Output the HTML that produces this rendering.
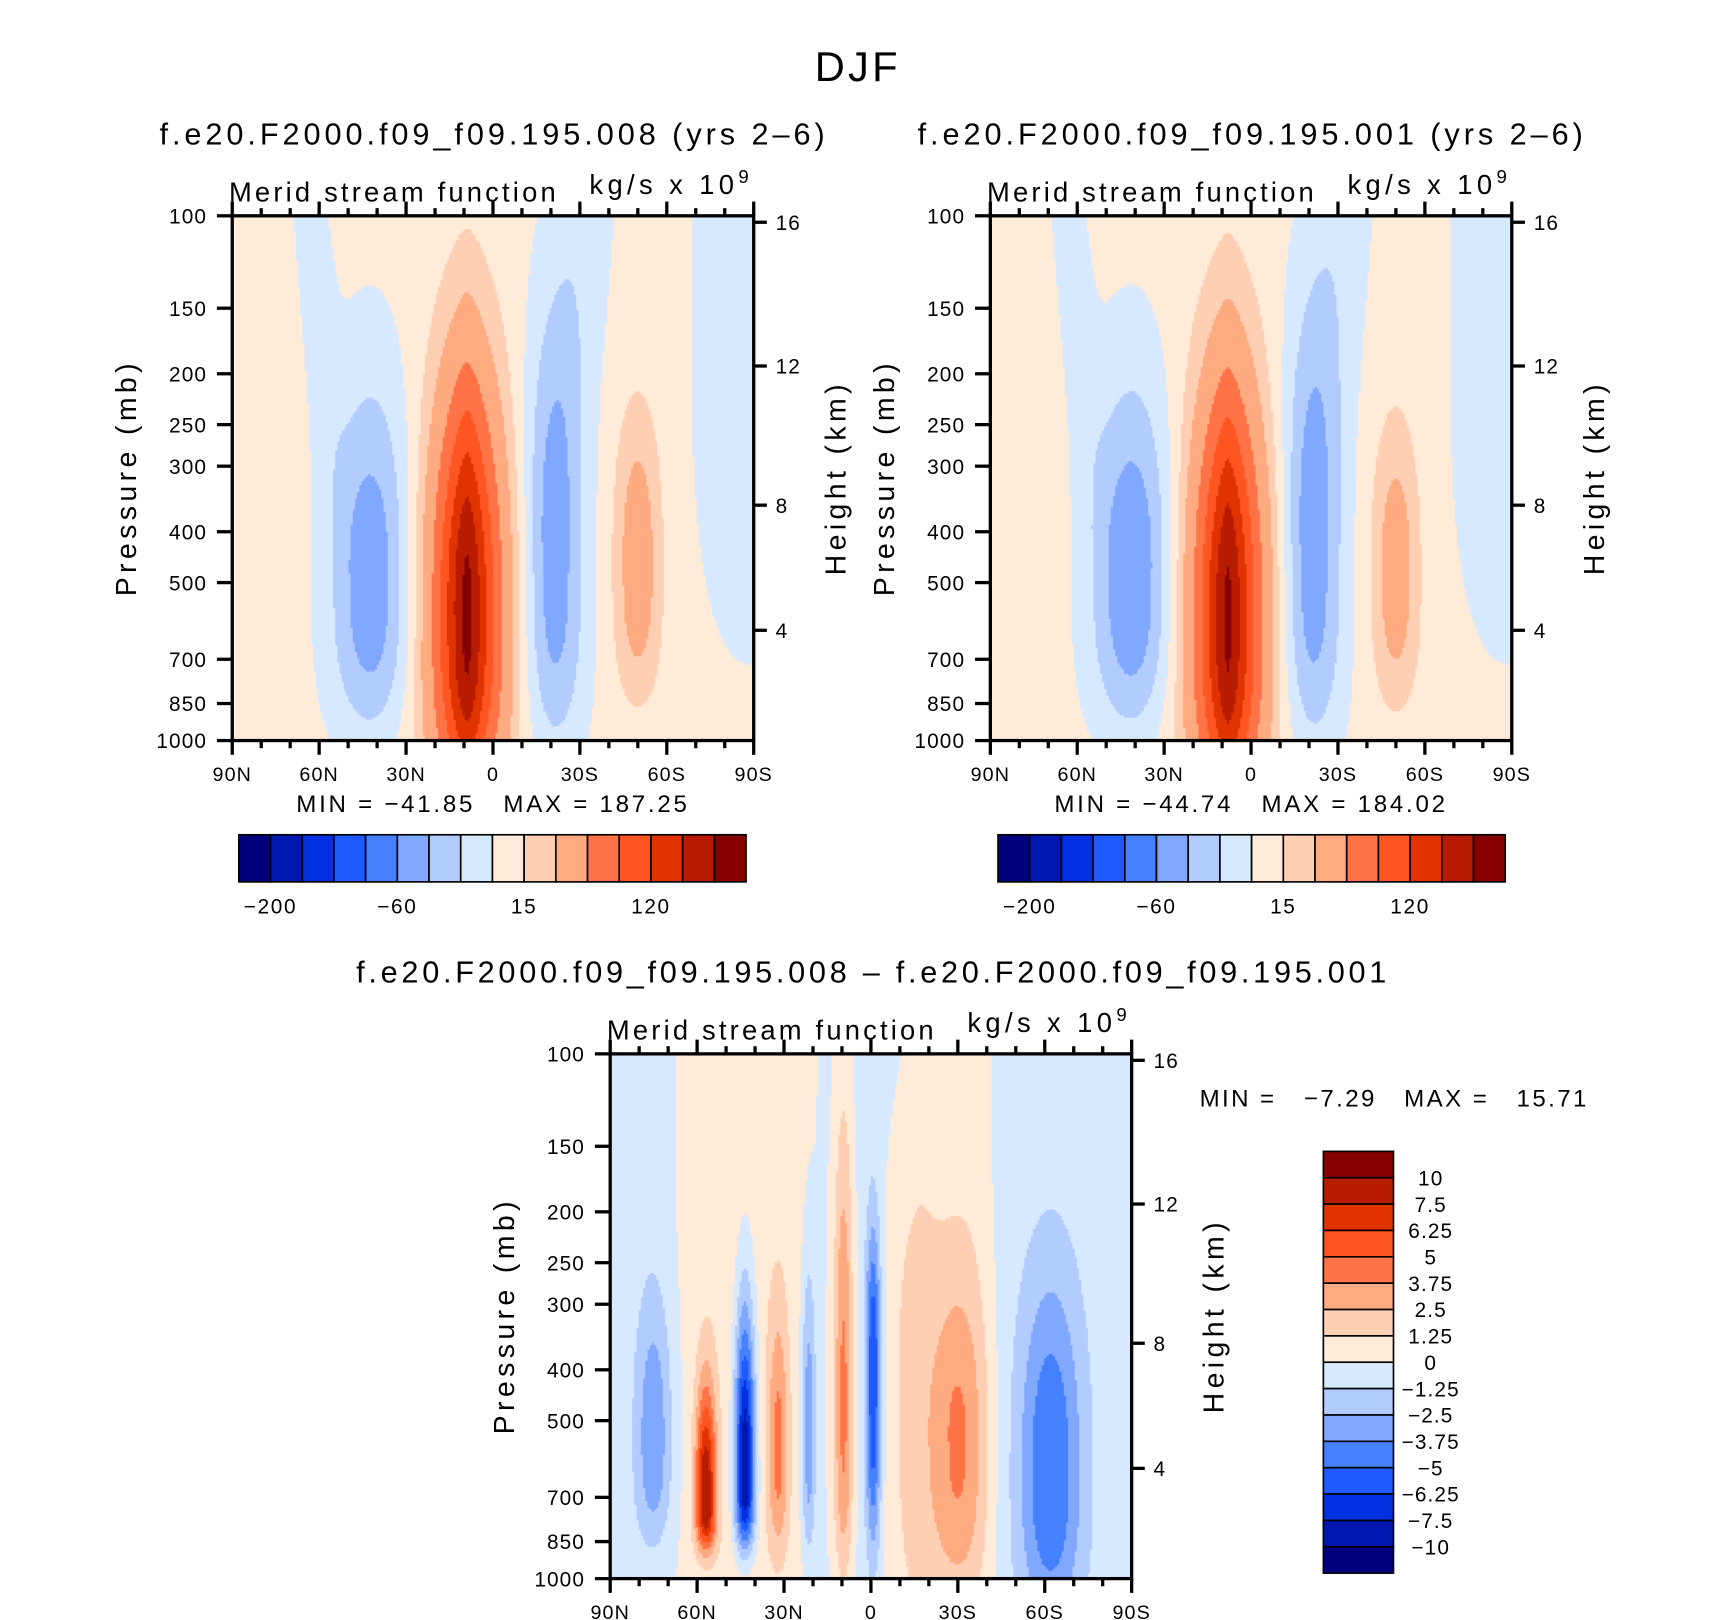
<!DOCTYPE html>
<html><head><meta charset="utf-8">
<style>
body{margin:0;background:#fff;width:1710px;height:1620px;overflow:hidden;}
#wrap{position:relative;width:1560px;height:1478px;overflow:hidden;background:#fff;transform:scale(1.0955);transform-origin:0 0;}
canvas{position:absolute;}
svg{position:absolute;left:0;top:0;}
text{font-family:"Liberation Sans",sans-serif;fill:#000;white-space:pre;}
</style></head>
<body>
<div id="wrap">
<canvas id="c1" width="476" height="479" style="left:212px;top:197px"></canvas>
<canvas id="c2" width="476" height="479" style="left:904px;top:197px"></canvas>
<canvas id="c3" width="476" height="479" style="left:557px;top:962px"></canvas>
<svg id="ov" width="1560" height="1478"></svg>
</div>
<script>
// ---- data ----
const pressureTicks = [100,150,200,250,300,400,500,700,850,1000];
const heightTicks = [4,8,12,16];
const latTicks = [90,60,30,0,-30,-60,-90];
const latTickLabels = ["90N","60N","30N","0","30S","60S","90S"];
const colors = ["#00007f","#0018b0","#0030e0","#1e5aff","#4580ff","#80a8ff","#b3ccff","#d6e9ff","#ffebd8","#ffcfb4","#ffaa80","#ff7347","#ff5520","#e13300","#b71c00","#870000"];
const levelsTop = [-200,-150,-100,-80,-60,-30,-15,0,15,30,60,90,120,150,180];
const levelsDiff = [-10,-7.5,-6.25,-5,-3.75,-2.5,-1.25,0,1.25,2.5,3.75,5,6.25,7.5,10];
const topBarLabels = ["-200","-60","15","120"];
const topBarLabelIdx = [0,4,8,12];
const diffBarLabels = ["10","7.5","6.25","5","3.75","2.5","1.25","0","-1.25","-2.5","-3.75","-5","-6.25","-7.5","-10"];
// panel 1 cells: lat, latWidth, latExponent, pressure centre, upper width, lower width, tilt, amplitude
const p1Bg = 5;
const p1Lat  = [9, 42, 63, -21, -31, -50, -88];
const p1LatW = [11, 14, 6, 10.5, 11, 8, 20];
const p1Exp  = [1.5, 2, 2, 2, 2, 2, 2];
const p1P    = [550, 480, 100, 447, 100, 437, 160];
const p1WUp  = [0.42, 0.37, 0.5, 0.44, 0.5, 0.27, 2];
const p1WDn  = [0.36, 0.3, 0.5, 0.36, 0.5, 0.27, 0.66];
const p1Tilt = [0, 0, -14.6, 0, 14.6, 0, 0];
const p1Amp  = [185, -46, -13, -44, -13, 38, -13];
// panel 2
const p2Bg = 5;
const p2Lat  = [8, 41, 63, -21, -31, -50, -88];
const p2LatW = [11, 14, 6, 10.5, 11, 8, 20];
const p2Exp  = [1.5, 2, 2, 2, 2, 2, 2];
const p2P    = [560, 470, 100, 440, 100, 450, 160];
const p2WUp  = [0.42, 0.36, 0.5, 0.45, 0.5, 0.26, 2];
const p2WDn  = [0.36, 0.3, 0.5, 0.36, 0.5, 0.27, 0.66];
const p2Tilt = [0, 0, -14.6, 0, 14.6, 0, 0];
const p2Amp  = [182, -49, -13, -45, -13, 36, -13];
// panel 3 difference
const p3Bg = -0.5;
const p3Lat  = [43, -28, -30, -12, 75, 57, 43.5, 32, 21.5, 9.5, -0.8, -62];
const p3LatW = [25, 14, 10, 8, 6, 3.5, 3.5, 3.5, 2.5, 3.5, 2.5, 11];
const p3Exp  = [4, 4, 2, 2, 2, 2, 2, 2, 2, 2, 2, 2];
const p3P    = [300, 400, 525, 400, 525, 700, 620, 550, 500, 450, 380, 600];
const p3WUp  = [3, 1.5, 0.3, 0.5, 0.26, 0.21, 0.31, 0.25, 0.3, 0.55, 0.25, 0.36];
const p3WDn  = [3, 1.0, 0.3, 0.6, 0.2, 0.1, 0.15, 0.2, 0.25, 0.35, 0.35, 0.3];
const p3Tilt = [0,0,0,0,0,0,0,0,0,0,0,0];
const p3Amp  = [1.3, 1.3, 3.2, 1.8, -3.2, 8.5, -9.5, 3.5, -3.5, 4.5, -6, -4.5];

// ---- axes ----
const W=476,H=479;
function latToX(P,lat){return P.x0+(90-lat)/180*W;}
function pToY(P,p){return P.y0+(Math.log10(p)-2)*H;}
function hToP(z){z*=1000; if(z<=11000) return 1013.25*Math.pow(1-2.2557e-5*z,5.256); return 226.3*Math.exp(-(z-11000)/6341.6);}
function field(lat,u,bg,L,LW,E,PC,WU,WD,T,A){
  let f=bg;
  for(let i=0;i<L.length;i++){
    const uc=Math.log10(PC[i]); const du=u-uc;
    const lc=L[i]+T[i]*du;
    const d=Math.abs(lat-lc)/LW[i];
    const w=du<0?WU[i]:WD[i];
    const r=Math.abs(du/w);
    const vz=du<0?r*r:Math.pow(r,3);
    f+=A[i]*Math.exp(-Math.pow(d,E[i]))*Math.exp(-vz);
  }
  return f;
}
function drawField(id,bg,L,LW,E,PC,WU,WD,T,A,levels){
  const ctx=document.getElementById(id).getContext('2d');
  for(let y=0;y<H;y+=2){
    const u=2+(y+1)/H;
    for(let x=0;x<W;x+=2){
      const lat=90-(x+1)/W*180;
      const f=field(lat,u,bg,L,LW,E,PC,WU,WD,T,A);
      let k=0; while(k<levels.length&&f>=levels[k])k++;
      ctx.fillStyle=colors[k]; ctx.fillRect(x,y,2,2);
    }
  }
}
drawField('c1',p1Bg,p1Lat,p1LatW,p1Exp,p1P,p1WUp,p1WDn,p1Tilt,p1Amp,levelsTop);
drawField('c2',p2Bg,p2Lat,p2LatW,p2Exp,p2P,p2WUp,p2WDn,p2Tilt,p2Amp,levelsTop);
drawField('c3',p3Bg,p3Lat,p3LatW,p3Exp,p3P,p3WUp,p3WDn,p3Tilt,p3Amp,levelsDiff);

const svg=document.getElementById('ov');
const NS='http://www.w3.org/2000/svg';
function mk(tag,attrs,txt,parent){const e=document.createElementNS(NS,tag);for(const k in attrs)e.setAttribute(k,attrs[k]);if(txt!==undefined)e.textContent=txt;(parent||svg).appendChild(e);return e;}
function line(x1,y1,x2,y2,w,name){const e=mk('line',{x1,y1,x2,y2,stroke:'#000','stroke-width':w});return e;}
function txt(x,y,s,size,anchor,name,extra){const a={x,y,'font-size':size,'text-anchor':anchor||'start'};if(extra)for(const k in extra)a[k]=extra[k];const e=mk('text',a,s);return e;}

function axes(P,prefix){
  const x1=P.x0+W,y1=P.y0+H;
  const r=mk('rect',{x:P.x0,y:P.y0,width:W,height:H,fill:'none',stroke:'#000','stroke-width':3});
  
  
  pressureTicks.forEach(p=>{const y=pToY(P,p);line(P.x0-14,y,P.x0,y,3,prefix+'-y-tick');txt(P.x0-23,y+7,String(p),19,'end',prefix+'-y-tick-label',{'letter-spacing':'1'});});
  heightTicks.forEach(h=>{const y=pToY(P,hToP(h));line(x1,y,x1+12,y,3,prefix+'-height-tick');txt(x1+20,y+7,String(h),19,'start',prefix+'-height-tick-label',{'letter-spacing':'1'});});
  for(let lat=90;lat>=-90;lat-=10){const x=latToX(P,lat);const major=lat%30===0;const l=major?13:7;
    line(x,y1,x,y1+l,3,prefix+'-x-tick');line(x,P.y0,x,P.y0-l,3,prefix+'-top-x-tick');}
  latTicks.forEach((lat,i)=>txt(latToX(P,lat),y1+37,latTickLabels[i],18,'middle',prefix+'-x-tick-label',{'letter-spacing':'1'}));
  txt(P.x0-88,P.y0+239,'Pressure (mb)',26,'middle',prefix+'-y-axis-title',{transform:`rotate(-90 ${P.x0-88} ${P.y0+239})`,'letter-spacing':'4'});
  txt(x1+84,P.y0+239,'Height (km)',26,'middle',prefix+'-height-axis-title',{transform:`rotate(-90 ${x1+84} ${P.y0+239})`,'letter-spacing':'4'});
  txt(P.x0-3,P.y0-13,'Merid stream function',25,'start',prefix+'-left-subtitle',{'letter-spacing':'2.9'});
  const k=txt(P.x0+326,P.y0-20,'kg/s x 10',25,'start',prefix+'-units-label',{'letter-spacing':'4'});
  mk('tspan',{'font-size':17,dy:-10},'9',k);
}
const P1={x0:212,y0:197},P2={x0:904,y0:197},P3={x0:557,y0:962};
axes(P1,'panel1');axes(P2,'panel2');axes(P3,'diff');

txt(783,74,'DJF',38,'middle','figure-title',{'letter-spacing':'3'});
txt(451,132,'f.e20.F2000.f09_f09.195.008 (yrs 2\u20136)',28,'middle','panel1-title',{'letter-spacing':'3.6'});
txt(1143,132,'f.e20.F2000.f09_f09.195.001 (yrs 2\u20136)',28,'middle','panel2-title',{'letter-spacing':'3.6'});
txt(797,897,'f.e20.F2000.f09_f09.195.008 \u2013 f.e20.F2000.f09_f09.195.001',28,'middle','diff-title',{'letter-spacing':'3.4'});
txt(450,741,'MIN = \u221241.85   MAX = 187.25',22,'middle','panel1-min-max',{'letter-spacing':'2.5'});
txt(1142,741,'MIN = \u221244.74   MAX = 184.02',22,'middle','panel2-min-max',{'letter-spacing':'2.5'});
txt(1095,1010,'MIN =   \u22127.29   MAX =   15.71',22,'start','diff-min-max',{'letter-spacing':'2.2'});

function hbar(x0,prefix){
  const bw=463/16;
  colors.forEach((c,i)=>{const r=mk('rect',{x:x0+i*bw,y:762,width:bw,height:43,fill:c,stroke:'#000','stroke-width':1.5});
    });
  topBarLabelIdx.forEach((k,i)=>txt(x0+(k+1)*bw,834,topBarLabels[i].replace('-','\u2212'),19,'middle',prefix+'-colorbar-label',{'letter-spacing':'1.5'}));
}
hbar(218,'panel1');hbar(911,'panel2');
const bh=385/16;
colors.slice().reverse().forEach((c,i)=>{const r=mk('rect',{x:1208,y:1051+i*bh,width:64,height:bh,fill:c,stroke:'#000','stroke-width':1.5});
  });
diffBarLabels.forEach((s,i)=>txt(1306,1051+(i+1)*bh+7,s.replace('-','\u2212'),19,'middle','diff-colorbar-label',{'letter-spacing':'1'}));
</script>
</body></html>
